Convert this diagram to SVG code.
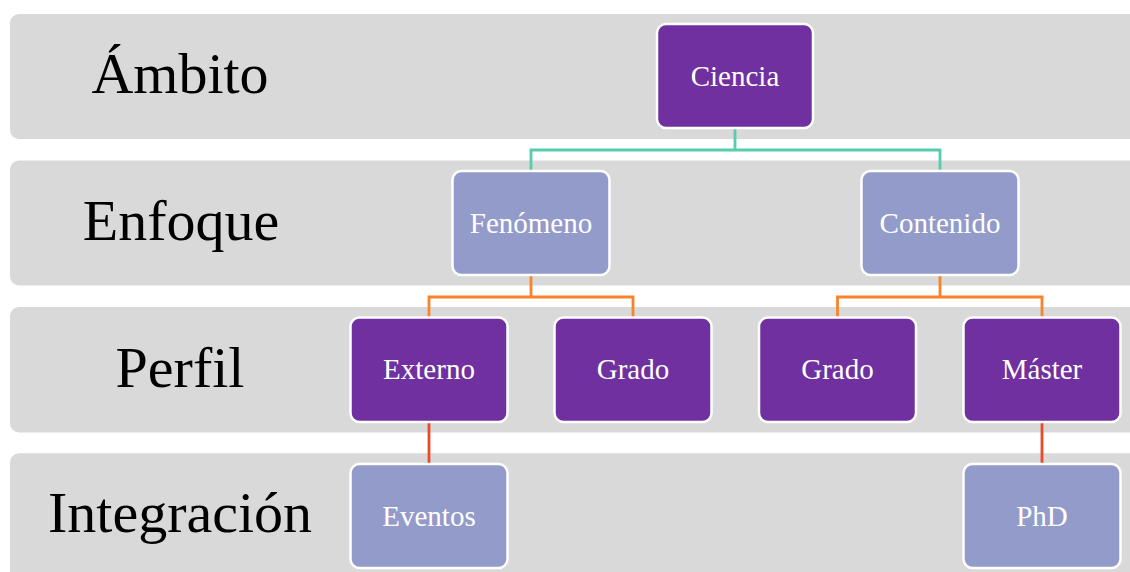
<svg xmlns="http://www.w3.org/2000/svg" width="1130" height="572" viewBox="0 0 1130 572">
<style>
.band{fill:#D9D9D9}
.lbl{font-family:"Liberation Serif","Times New Roman",serif;font-size:58px;fill:#000;text-anchor:middle}
.n1{fill:#7030A0;stroke:#fff;stroke-width:2.5}
.n2{fill:#939BCB;stroke:#fff;stroke-width:2.5}
.t{font-family:"Liberation Serif","Times New Roman",serif;font-size:29px;fill:#fff;text-anchor:middle}
.c{fill:none;stroke-width:2.8}
</style>
<rect width="1130" height="572" fill="#fff"/>
<g id="bands">
<rect class="band" x="10" y="14" width="1140" height="125" rx="9"/>
<rect class="band" x="10" y="160.5" width="1140" height="125" rx="9"/>
<rect class="band" x="10" y="307" width="1140" height="125.5" rx="9"/>
<rect class="band" x="10" y="453.3" width="1140" height="130" rx="9"/>
<text class="lbl" x="180" y="93">Ámbito</text>
<text class="lbl" x="181" y="240">Enfoque</text>
<text class="lbl" x="180" y="387">Perfil</text>
<text class="lbl" x="180" y="532">Integración</text>
</g>
<g id="connectors">
<path class="c" stroke="#55CDAE" d="M735,128 V150 M531,171 V150 H940 V171"/>
<path class="c" stroke="#F9822B" d="M531,275 V297 M429,317 V297 H633 V317"/>
<path class="c" stroke="#F9822B" d="M940,275 V297 M837.5,317 V297 H1042 V317"/>
<path class="c" stroke="#EA4A2B" d="M429,422 V464 M1042,422 V464"/>
</g>
<g id="ciencia"><rect class="n1" x="657" y="24" width="156" height="104" rx="9"/><text class="t" x="735" y="86">Ciencia</text></g>
<g id="fenomeno"><rect class="n2" x="452.5" y="171" width="157" height="104" rx="9"/><text class="t" x="531" y="232.5">Fenómeno</text></g>
<g id="contenido"><rect class="n2" x="861.5" y="171" width="157" height="104" rx="9"/><text class="t" x="940" y="232.5">Contenido</text></g>
<g id="externo"><rect class="n1" x="350.5" y="317.5" width="157" height="104.5" rx="9"/><text class="t" x="429" y="379">Externo</text></g>
<g id="grado1"><rect class="n1" x="554.5" y="317.5" width="157" height="104.5" rx="9"/><text class="t" x="633" y="379">Grado</text></g>
<g id="grado2"><rect class="n1" x="759" y="317.5" width="157" height="104.5" rx="9"/><text class="t" x="837.5" y="379">Grado</text></g>
<g id="master"><rect class="n1" x="963.5" y="317.5" width="157" height="104.5" rx="9"/><text class="t" x="1042" y="379">Máster</text></g>
<g id="eventos"><rect class="n2" x="350.5" y="464" width="157" height="104" rx="9"/><text class="t" x="429" y="525.5">Eventos</text></g>
<g id="phd"><rect class="n2" x="963.5" y="464" width="157" height="104" rx="9"/><text class="t" x="1042" y="525.5">PhD</text></g>
</svg>
